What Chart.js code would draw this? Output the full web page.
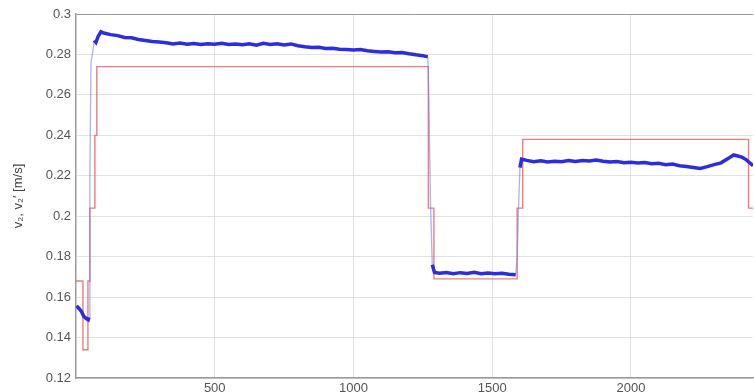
<!DOCTYPE html>
<html>
<head>
<meta charset="utf-8">
<script src="https://cdn.jsdelivr.net/npm/chart.js@4"></script>
<style>
  html, body { margin: 0; padding: 0; background: #fff; }
  #wrap { width: 754px; height: 392px; }
</style>
</head>
<body>
<div id="wrap"><canvas id="chart"></canvas></div>
<script>
// --- DATA ---
const xTicks = [500, 1000, 1500, 2000];
const yTicks = [0.12, 0.14, 0.16, 0.18, 0.2, 0.22, 0.24, 0.26, 0.28, 0.3];

// reference speed (step changes)
const refX = [0, 25, 43, 50, 68, 75, 1270, 1290, 1590, 1610, 2424, 2440];
const refY = [0.168, 0.134, 0.168, 0.204, 0.240, 0.274, 0.204, 0.169, 0.204, 0.238, 0.204, 0.204];

// measured speed
const measX = [
  2, 10, 20, 28, 36, 44, 47, 50, 54, 60, 66, 72, 80, 90,
  100, 125, 150, 175, 200, 225, 250, 275, 300, 325, 350, 375, 400, 425, 450, 475,
  500, 525, 550, 575, 600, 625, 650, 675, 700, 725, 750, 775, 800, 825, 850, 875,
  900, 925, 950, 975, 1000, 1025, 1050, 1075, 1100, 1125, 1150, 1175, 1200, 1225, 1250, 1268,
  1272, 1278, 1284, 1292,
  1310, 1335, 1360, 1385, 1410, 1435, 1460, 1485, 1510, 1535, 1560, 1585,
  1590, 1595, 1600, 1606,
  1625, 1650, 1675, 1700, 1725, 1750, 1775, 1800, 1825, 1850, 1875, 1900, 1925, 1950, 1975,
  2000, 2025, 2050, 2075, 2100, 2125, 2150, 2175, 2200, 2225, 2250, 2275, 2300, 2325, 2350,
  2370, 2385, 2400, 2415, 2430, 2440
];
const measY = [
  0.1557, 0.1545, 0.1528, 0.1505, 0.1495, 0.1488, 0.1500, 0.2200, 0.2760, 0.2810, 0.2870, 0.2860, 0.2890, 0.2912,
  0.2906, 0.2898, 0.2893, 0.2884, 0.2882, 0.2874, 0.2869, 0.2864, 0.2861, 0.2858, 0.2852, 0.2856, 0.2850, 0.2854, 0.2849, 0.2853,
  0.2851, 0.2855, 0.2849, 0.2852, 0.2848, 0.2853, 0.2846, 0.2855, 0.2849, 0.2853, 0.2847, 0.2852, 0.2843, 0.2838, 0.2834, 0.2836,
  0.2829, 0.2831, 0.2826, 0.2824, 0.2822, 0.2824, 0.2818, 0.2815, 0.2812, 0.2813, 0.2808, 0.2810, 0.2803, 0.2798, 0.2794, 0.2788,
  0.2550, 0.2050, 0.1760, 0.1722,
  0.1718, 0.1722, 0.1716, 0.1721, 0.1717, 0.1723, 0.1716, 0.1719, 0.1715, 0.1718, 0.1713, 0.1710,
  0.1800, 0.2050, 0.2240, 0.2282,
  0.2276, 0.2270, 0.2274, 0.2268, 0.2272, 0.2270, 0.2275, 0.2271, 0.2276, 0.2273, 0.2278, 0.2272, 0.2268, 0.2271, 0.2265,
  0.2267, 0.2263, 0.2266, 0.2260, 0.2262, 0.2255, 0.2258, 0.2250, 0.2246, 0.2241, 0.2236, 0.2245, 0.2255, 0.2264, 0.2285,
  0.2303, 0.2298, 0.2292, 0.2280, 0.2262, 0.2250
];

const toPoints = (xs, ys) => xs.map((x, i) => ({ x: x, y: ys[i] }));
const isJump = ctx => Math.abs(ctx.p1.parsed.y - ctx.p0.parsed.y) > 0.005;

// --- CHART ---
const fontFamily = 'Liberation Sans, Arial, sans-serif';
const tickFont = { family: fontFamily, size: 13 };
const tickColor = '#555';

new Chart(document.getElementById('chart'), {
  type: 'line',
  data: {
    datasets: [
      {
        label: 'measured',
        data: toPoints(measX, measY),
        borderColor: '#2c2ce0',
        borderWidth: 3.5,
        pointRadius: 0,
        tension: 0,
        order: 1,
        segment: {
          // fast transients look like a thin pale line
          borderColor: ctx => isJump(ctx) ? 'rgba(110,130,235,0.6)' : undefined,
          borderWidth: ctx => isJump(ctx) ? 1.3 : undefined
        }
      },
      {
        label: 'reference',
        data: toPoints(refX, refY),
        borderColor: 'rgba(236,110,110,0.9)',
        borderWidth: 1.4,
        pointRadius: 0,
        stepped: 'before',
        order: 2
      }
    ]
  },
  options: {
    responsive: true,
    maintainAspectRatio: false,
    animation: false,
    layout: { padding: { left: 0, top: 14, right: 1, bottom: 0 } },
    plugins: { legend: { display: false }, tooltip: { enabled: false } },
    scales: {
      x: {
        type: 'linear',
        min: 0,
        max: 2440,
        afterBuildTicks: scale => { scale.ticks = xTicks.map(v => ({ value: v })); },
        afterFit: scale => { scale.height = 14; },
        grid: { color: '#e2e2e2', drawTicks: false },
        border: { color: '#9a9a9a', width: 1.5 },
        ticks: { font: tickFont, color: tickColor, padding: 3, maxRotation: 0, callback: v => String(v) }
      },
      y: {
        min: 0.12,
        max: 0.3,
        afterBuildTicks: scale => { scale.ticks = yTicks.map(v => ({ value: v })); },
        afterFit: scale => { scale.width = 76; },
        grid: {
          color: ctx => ctx.tick && Math.abs(ctx.tick.value - 0.3) < 1e-6 ? '#999' : '#e2e2e2',
          drawTicks: false
        },
        border: { color: '#9a9a9a', width: 1.5 },
        ticks: {
          font: tickFont,
          color: tickColor,
          padding: 5,
          callback: v => String(+v.toFixed(2))
        },
        title: {
          display: true,
          text: 'v₂, v₂′ [m/s]',
          font: { family: fontFamily, size: 13 },
          color: '#444',
          padding: { top: 11, bottom: 0 }
        }
      }
    }
  }
});
</script>
</body>
</html>
